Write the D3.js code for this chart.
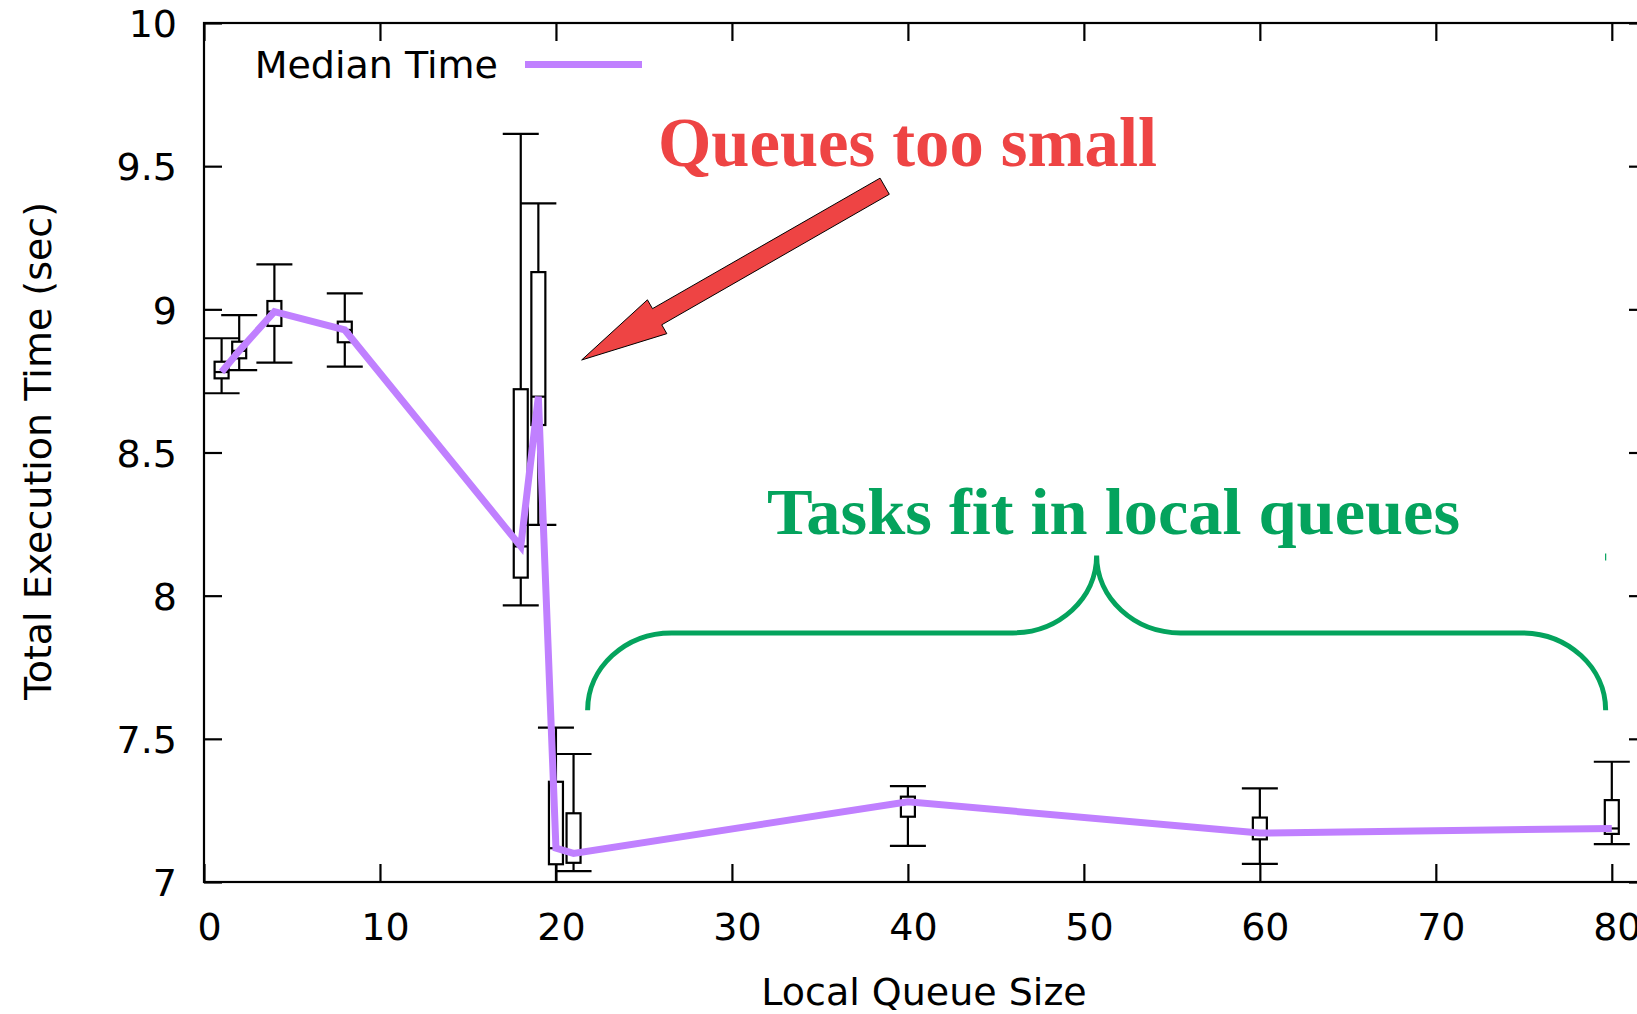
<!DOCTYPE html>
<html>
<head>
<meta charset="utf-8">
<script src="https://cdn.jsdelivr.net/npm/d3@7"></script>
<style>
  html, body { margin: 0; padding: 0; background: #fff; }
  svg { display: block; }
</style>
</head>
<body>
<div id="chart"></div>
<script>
// Queue sizes tested and the execution-time distribution for each (seconds)
const queueSize   = [1, 2, 4, 8, 18, 19, 20, 21, 40, 60, 80];
const whiskerLow  = [8.707, 8.788, 8.814, 8.800, 7.966, 8.247, 6.970, 7.038, 7.126, 7.063, 7.132];
const boxLow      = [8.759, 8.829, 8.942, 8.885, 8.063, 8.596, 7.062, 7.067, 7.228, 7.149, 7.168];
const medianTime  = [8.781, 8.855, 8.992, 8.928, 8.172, 8.695, 7.118, 7.100, 7.280, 7.171, 7.187];
const boxHigh     = [8.817, 8.887, 9.029, 8.957, 8.721, 9.130, 7.350, 7.240, 7.298, 7.225, 7.286];
const whiskerHigh = [8.899, 8.980, 9.157, 9.056, 9.613, 9.370, 7.539, 7.447, 7.335, 7.327, 7.420];

const xTicks = [0, 10, 20, 30, 40, 50, 60, 70, 80];
const yTicks = [7, 7.5, 8, 8.5, 9, 9.5, 10];
const yTickLabels = ["7", "7.5", "8", "8.5", "9", "9.5", "10"];

// Annotation anchors, in data units
const arrowTip  = [21.46, 8.823];
const arrowTail = [38.68, 9.430];
const braceSpan = [21.8, 79.65];
const braceLevels = { foot: 7.60, bar: 7.87, peak: 8.14 };

const W = 1637, H = 1014;
const plot = { left: 204, top: 23, right: 1647, bottom: 882 };
const axisFont = "'DejaVu Sans', sans-serif";
const purple = "#c080ff";
const red = "#ee4444";
const green = "#04a35d";

const svg = d3.select("#chart").append("svg")
  .attr("width", W).attr("height", H)
  .attr("viewBox", `0 0 ${W} ${H}`);

const x = d3.scaleLinear().domain([0, 82]).range([plot.left, plot.right]);
const y = d3.scaleLinear().domain([7, 10]).range([plot.bottom, plot.top]);

svg.append("defs").append("clipPath").attr("id", "plotClip")
  .append("rect")
  .attr("x", plot.left).attr("y", plot.top)
  .attr("width", plot.right - plot.left).attr("height", plot.bottom - plot.top);

// ---- axes: inward ticks, mirrored on top and right ----
const tickLen = 18;
function styleAxis(g) {
  g.select(".domain").remove();
  g.selectAll(".tick line").attr("stroke", "#000").attr("stroke-width", 2.2);
  g.selectAll("text").attr("fill", "#000")
    .style("font-family", axisFont).style("font-size", "38px");
}

svg.append("g")
  .attr("transform", `translate(0,${plot.bottom})`)
  .call(d3.axisBottom(x).tickValues(xTicks).tickSizeInner(-tickLen).tickSizeOuter(0)
        .tickPadding(31).tickFormat(d3.format("d")))
  .call(styleAxis)
  .call(g => g.selectAll("text").attr("x", 5));

svg.append("g")
  .attr("transform", `translate(${plot.left},0)`)
  .call(d3.axisLeft(y).tickValues(yTicks).tickSizeInner(-tickLen).tickSizeOuter(0)
        .tickPadding(27).tickFormat((d, i) => yTickLabels[i]))
  .call(styleAxis)
  .call(g => g.selectAll("text").attr("dy", "0.36em"));

svg.append("g")
  .attr("transform", `translate(0,${plot.top})`)
  .call(d3.axisTop(x).tickValues(xTicks).tickSizeInner(-tickLen).tickSizeOuter(0).tickFormat(""))
  .call(styleAxis);

svg.append("g")
  .attr("transform", `translate(${plot.right},0)`)
  .call(d3.axisRight(y).tickValues(yTicks).tickSizeInner(-tickLen).tickSizeOuter(0).tickFormat(""))
  .call(styleAxis);

// frame
svg.append("rect")
  .attr("x", plot.left).attr("y", plot.top)
  .attr("width", plot.right - plot.left).attr("height", plot.bottom - plot.top)
  .attr("fill", "none").attr("stroke", "#000").attr("stroke-width", 2.2);

// ---- axis titles ----
svg.append("text")
  .attr("x", 924).attr("y", 1005)
  .attr("text-anchor", "middle")
  .style("font-family", axisFont).style("font-size", "38px")
  .text("Local Queue Size");

svg.append("text")
  .attr("transform", "translate(51,451) rotate(-90)")
  .attr("text-anchor", "middle")
  .style("font-family", axisFont).style("font-size", "38px")
  .text("Total Execution Time (sec)");

// ---- box-and-whisker marks ----
const rows = queueSize.map((q, i) => ({
  q, wl: whiskerLow[i], bl: boxLow[i], med: medianTime[i], bh: boxHigh[i], wh: whiskerHigh[i]
}));
const capHalf = 18, boxHalf = 7;
const marks = svg.append("g").attr("clip-path", "url(#plotClip)")
  .attr("stroke", "#000").attr("stroke-width", 2.2).attr("fill", "none");

const item = marks.selectAll("g.item").data(rows).join("g").attr("class", "item");
// whisker stems
item.append("line")
  .attr("x1", d => x(d.q)).attr("x2", d => x(d.q))
  .attr("y1", d => y(d.wh)).attr("y2", d => y(d.bh));
item.append("line")
  .attr("x1", d => x(d.q)).attr("x2", d => x(d.q))
  .attr("y1", d => y(d.bl)).attr("y2", d => y(d.wl));
// whisker caps
item.append("line")
  .attr("x1", d => x(d.q) - capHalf).attr("x2", d => x(d.q) + capHalf)
  .attr("y1", d => y(d.wh)).attr("y2", d => y(d.wh));
item.append("line")
  .attr("x1", d => x(d.q) - capHalf).attr("x2", d => x(d.q) + capHalf)
  .attr("y1", d => y(d.wl)).attr("y2", d => y(d.wl));
// boxes
item.append("rect")
  .attr("x", d => x(d.q) - boxHalf).attr("width", boxHalf * 2)
  .attr("y", d => y(d.bh)).attr("height", d => y(d.bl) - y(d.bh))
  .attr("fill", "#fff");
// median bars
item.append("line")
  .attr("x1", d => x(d.q) - boxHalf).attr("x2", d => x(d.q) + boxHalf)
  .attr("y1", d => y(d.med)).attr("y2", d => y(d.med));

// ---- median line ----
svg.append("path")
  .datum(rows)
  .attr("clip-path", "url(#plotClip)")
  .attr("fill", "none").attr("stroke", purple).attr("stroke-width", 7)
  .attr("stroke-linejoin", "miter")
  .attr("d", d3.line().x(d => x(d.q)).y(d => y(d.med)));

// ---- legend ----
svg.append("text")
  .attr("x", 498).attr("y", 78).attr("text-anchor", "end")
  .style("font-family", axisFont).style("font-size", "38px")
  .text("Median Time");
svg.append("line")
  .attr("x1", 525).attr("x2", 642).attr("y1", 64.5).attr("y2", 64.5)
  .attr("stroke", purple).attr("stroke-width", 7);

// ---- annotation: arrow ----
(function drawArrow() {
  const tx = x(arrowTip[0]), ty = y(arrowTip[1]);
  const sx = x(arrowTail[0]), sy = y(arrowTail[1]);
  const len = Math.hypot(sx - tx, sy - ty);
  const ux = (sx - tx) / len, uy = (sy - ty) / len;
  const nx = -uy, ny = ux;
  const shaft = 9.3, head = 19.5, headLen = 87;
  const p = (a, b) => [tx + ux * a + nx * b, ty + uy * a + ny * b];
  const pts = [p(0, 0), p(headLen, -head), p(headLen, -shaft), p(len, -shaft),
               p(len, shaft), p(headLen, shaft), p(headLen, head)];
  svg.append("path")
    .attr("d", d3.line()(pts) + "Z")
    .attr("fill", red).attr("stroke", "#000").attr("stroke-width", 1)
    .attr("stroke-linejoin", "miter");
})();

svg.append("text")
  .attr("x", 658).attr("y", 166)
  .attr("textLength", 499).attr("lengthAdjust", "spacingAndGlyphs")
  .attr("fill", red)
  .style("font-family", "'Liberation Serif', serif").style("font-weight", "bold")
  .style("font-size", "70px")
  .text("Queues too small");

// ---- annotation: curly brace ----
(function drawBrace() {
  const xl = x(braceSpan[0]), xr = x(braceSpan[1]), xm = (xl + xr) / 2;
  const yb = y(braceLevels.foot), yh = y(braceLevels.bar), yp = y(braceLevels.peak);
  const w = 84, k = 0.5523;
  const d = [
    `M${xl},${yb}`,
    `C${xl},${yb - k * (yb - yh)} ${xl + w - k * w},${yh} ${xl + w},${yh}`,
    `L${xm - w},${yh}`,
    `C${xm - w + k * w},${yh} ${xm},${yp + k * (yh - yp)} ${xm},${yp}`,
    `C${xm},${yp + k * (yh - yp)} ${xm + w - k * w},${yh} ${xm + w},${yh}`,
    `L${xr - w},${yh}`,
    `C${xr - w + k * w},${yh} ${xr},${yb - k * (yb - yh)} ${xr},${yb}`
  ].join(" ");
  svg.append("path").attr("d", d)
    .attr("fill", "none").attr("stroke", green).attr("stroke-width", 5);
  svg.append("line")
    .attr("x1", xr).attr("x2", xr).attr("y1", yp - 2).attr("y2", yp + 5)
    .attr("stroke", green).attr("stroke-width", 1.2);
})();

svg.append("text")
  .attr("x", 767).attr("y", 534)
  .attr("textLength", 693).attr("lengthAdjust", "spacingAndGlyphs")
  .attr("fill", green)
  .style("font-family", "'Liberation Serif', serif").style("font-weight", "bold")
  .style("font-size", "66px")
  .text("Tasks fit in local queues");
</script>
</body>
</html>
